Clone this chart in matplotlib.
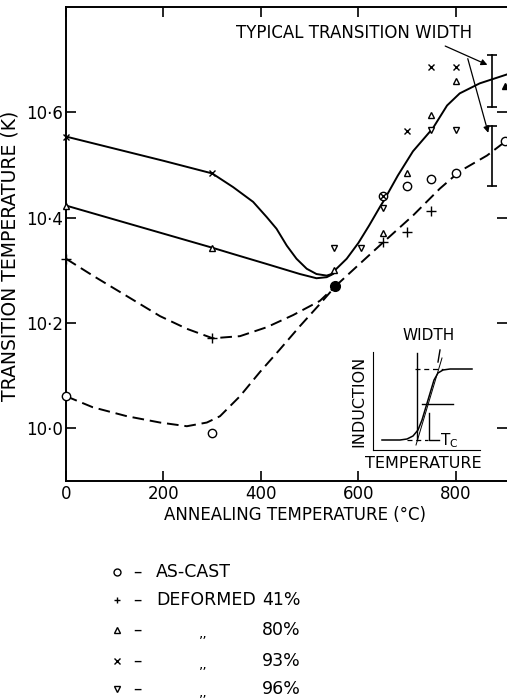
import numpy as np
import matplotlib
matplotlib.use('Agg')
import matplotlib.pyplot as plt
from matplotlib.lines import Line2D

# measured points (annealing temperature in C, transition temperature in K)
ascast_x = [0, 300, 650, 700, 750, 800, 900]
ascast_y = [10.061, 9.992, 10.442, 10.461, 10.474, 10.484, 10.545]
def41_x = [0, 300, 650, 700, 750]
def41_y = [10.322, 10.171, 10.354, 10.373, 10.413]
def80_x = [0, 300, 550, 650, 700, 750, 800]
def80_y = [10.423, 10.343, 10.301, 10.371, 10.484, 10.594, 10.659]
def93_x = [0, 300, 650, 700, 750, 800]
def93_y = [10.554, 10.484, 10.442, 10.564, 10.686, 10.686]
def96_x = [550, 605, 650, 750, 800]
def96_y = [10.343, 10.343, 10.419, 10.566, 10.566]
common_x = [553]
common_y = [10.270]
edge_tri_x = [900]
edge_tri_y = [10.650]

# hand drawn curves
c93_x = [0, 100, 200, 300, 343, 384, 412, 432, 453, 473, 494, 514, 535, 545]
c93_y = [10.554, 10.531, 10.508, 10.484, 10.458, 10.430, 10.401, 10.379, 10.347, 10.322, 10.303, 10.293, 10.290, 10.293]
c80_x = [0, 150, 300, 343, 412, 480, 514, 535, 548]
c80_y = [10.423, 10.383, 10.343, 10.331, 10.312, 10.293, 10.285, 10.287, 10.293]
rise_x = [545, 555, 576, 600, 622, 644, 652, 681, 712, 753, 782, 808, 849, 905]
rise_y = [10.293, 10.303, 10.322, 10.352, 10.385, 10.420, 10.432, 10.480, 10.526, 10.570, 10.613, 10.636, 10.655, 10.672]
c41_x = [0, 55, 125, 193, 248, 301, 357, 412, 466, 521, 553]
c41_y = [10.322, 10.290, 10.251, 10.213, 10.189, 10.171, 10.175, 10.192, 10.215, 10.242, 10.270]
cas_x = [0, 55, 125, 193, 248, 289, 316, 357, 398, 439, 480, 521, 553]
cas_y = [10.061, 10.040, 10.023, 10.011, 10.004, 10.011, 10.023, 10.061, 10.107, 10.150, 10.194, 10.236, 10.270]
cdash_x = [553, 600, 652, 712, 767, 808, 864, 905]
cdash_y = [10.270, 10.310, 10.354, 10.404, 10.455, 10.488, 10.518, 10.547]

# typical transition widths
width_x = [874, 874]
width_lo = [10.611, 10.461]
width_hi = [10.709, 10.575]

yticks = [10.0, 10.2, 10.4, 10.6]
ytick_labels = ['10\u00b70', '10\u00b72', '10\u00b74', '10\u00b76']
xticks = [0, 200, 400, 600, 800]

fig = plt.figure(figsize=(5.07, 6.98), dpi=100)
ax = fig.add_axes([66/507, 1-481/698, 441/507, 474/698])
ax.set_xlim(0, 905)
ax.set_ylim(9.9, 10.8)

lw = 1.4
ax.plot(c93_x, c93_y, 'k-', lw=lw)
ax.plot(c80_x, c80_y, 'k-', lw=lw)
ax.plot(rise_x, rise_y, 'k-', lw=lw)
ax.plot(c41_x, c41_y, 'k-', lw=lw, dashes=(6, 3))
ax.plot(cas_x, cas_y, 'k-', lw=lw, dashes=(6, 3))
ax.plot(cdash_x, cdash_y, 'k-', lw=lw, dashes=(6, 3))

mk = dict(ls='none', color='k', mfc='white', mew=1.0, clip_on=False, zorder=5)
ax.plot(ascast_x, ascast_y, marker='o', ms=6, **mk)
ax.plot(def41_x, def41_y, marker='+', ms=7, **mk)
ax.plot(def80_x, def80_y, marker='^', ms=5, **mk)
ax.plot(def93_x, def93_y, marker='x', ms=5, **mk)
ax.plot(def96_x, def96_y, marker='v', ms=5, **mk)
ax.plot(common_x, common_y, 'ko', ms=7, zorder=6)
ax.plot(edge_tri_x, edge_tri_y, 'k^', ms=5, clip_on=False, zorder=6)

for i in range(len(width_x)):
    ax.plot([width_x[i], width_x[i]], [width_lo[i], width_hi[i]], 'k-', lw=1.2,
            marker='_', ms=7, mew=1.2)

ax.text(591, 10.750, 'TYPICAL TRANSITION WIDTH', ha='center', va='center', fontsize=12)
ax.annotate('', xy=(870, 10.688), xytext=(773, 10.728),
            arrowprops=dict(arrowstyle='-|>', lw=0.9, color='k', mutation_scale=9))
ax.annotate('', xy=(868, 10.556), xytext=(823, 10.707),
            arrowprops=dict(arrowstyle='-|>', lw=0.9, color='k', mutation_scale=9))

ax.set_xticks(xticks)
ax.set_yticks(yticks)
ax.set_yticklabels(ytick_labels)
ax.tick_params(direction='in', length=7, width=1.2, labelsize=12, pad=3,
               top=True, right=True)
ax.tick_params(axis='y', pad=2)
ax.spines['right'].set_visible(False)
for s in ['left', 'bottom', 'top']:
    ax.spines[s].set_linewidth(1.4)

ax.set_xlabel('ANNEALING TEMPERATURE (\u00b0C)', fontsize=12, labelpad=1)
ax.xaxis.set_label_coords(0.52, -0.053)
ax.set_ylabel('TRANSITION TEMPERATURE (K)', fontsize=13.5, labelpad=1)
ax.yaxis.set_label_coords(-0.106, 0.475)

# inset sketch of the transition
sig_x = [9, 27, 34, 40, 45, 49, 52, 55, 58, 61, 65, 70, 77, 99]
sig_y = [10, 10, 11, 14, 20, 30, 40, 50, 60, 70, 77, 80, 81, 81]
ins = fig.add_axes([373/507, 1-450/698, 107/507, 98/698])
ins.set_xlim(0, 107)
ins.set_ylim(0, 98)
ins.set_xticks([])
ins.set_yticks([])
ins.patch.set_alpha(0)
ins.spines['top'].set_visible(False)
ins.spines['right'].set_visible(False)
ins.plot(sig_x, sig_y, 'k-', lw=1.1)
ins.plot([42, 70], [81, 81], 'k-', lw=0.9, dashes=(4, 3))
ins.plot([34, 55], [10, 10], 'k-', lw=0.9, dashes=(4, 3))
ins.plot([44, 44], [97, 10], 'k-', lw=1.0, clip_on=False)
ins.plot([65, 67], [88, 100], 'k-', lw=1.0, clip_on=False)
ins.plot([49, 80], [46, 46], 'k-', lw=1.0)
ins.plot([56, 56, 66], [37, 10, 10], 'k-', lw=1.0)
ins.plot([43, 69], [5, 92], 'k-', lw=0.7)
ins.text(67, 9, 'T$_\\mathregular{C}$', fontsize=11, va='center', ha='left')
fig.text(359/507, 1-401/698, 'INDUCTION', rotation=90, ha='center', va='center', fontsize=11.5)
fig.text(423/507, 1-463/698, 'TEMPERATURE', ha='center', va='center', fontsize=11.5)
fig.text(429/507, 1-335/698, 'WIDTH', ha='center', va='center', fontsize=11)

# key below the plot
key_markers = ['o', '+', '^', 'x', 'v']
key_names = ['AS-CAST', 'DEFORMED', ',,', ',,', ',,']
key_pct = ['', '41%', '80%', '93%', '96%']
key_rows = [572, 600, 630, 661, 689]
for i in range(5):
    yf = 1 - key_rows[i]/698
    fig.add_artist(Line2D([117/507], [yf], transform=fig.transFigure, marker=key_markers[i],
                          ms=5, color='k', mfc='white', mew=1.0, ls='none'))
    fig.text(137/507, yf, '\u2013', ha='center', va='center', fontsize=12)
    if i < 2:
        fig.text(156/507, yf, key_names[i], ha='left', va='center', fontsize=12.5)
    else:
        fig.text(203/507, yf - 0.004, key_names[i], ha='center', va='center', fontsize=10)
    fig.text(262/507, yf, key_pct[i], ha='left', va='center', fontsize=12.5)

fig.savefig('out.png', dpi=100)
